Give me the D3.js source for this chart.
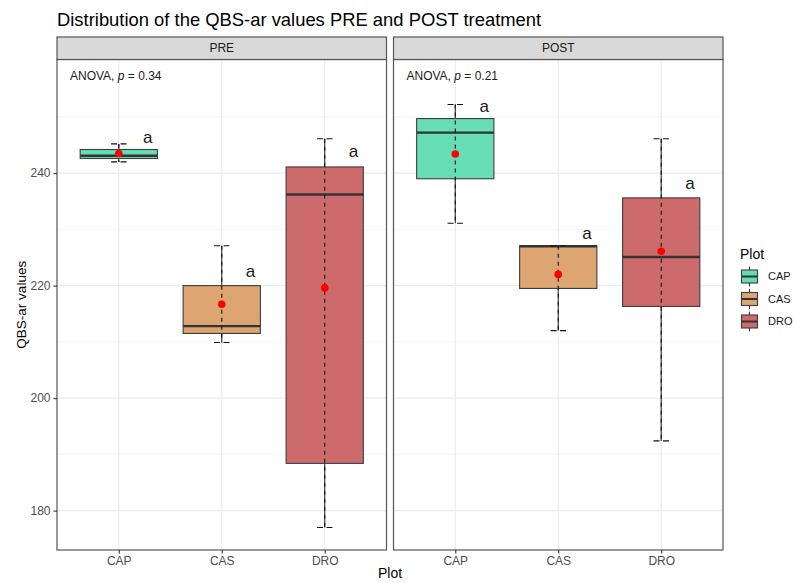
<!DOCTYPE html>
<html>
<head>
<meta charset="utf-8">
<script src="https://cdn.jsdelivr.net/npm/d3@7"></script>
<style>
  body { margin: 0; background: #fff; }
  text { font-family: "Liberation Sans", Arial, sans-serif; }
</style>
</head>
<body>
<div id="chart"></div>
<script>
// data
const panels = ["PRE", "POST"];
const categories = ["CAP", "CAS", "DRO"];
const anovaP = ["0.34", "0.21"];
const yTicks = [180, 200, 220, 240];
const yMinor = [190, 210, 230, 250];

const preMin = [242.0, 209.9, 177.0];
const preQ1 = [242.6, 211.5, 188.4];
const preMedian = [243.1, 212.8, 236.2];
const preQ3 = [244.2, 220.0, 241.1];
const preMax = [245.2, 227.1, 246.1];
const preMean = [243.5, 216.7, 219.6];
const preLetter = ["a", "a", "a"];
const preLetterY = [246.5, 222.6, 243.9];

const postMin = [231.1, 212.0, 192.4];
const postQ1 = [239.0, 219.5, 216.3];
const postMedian = [247.2, 227.0, 225.1];
const postQ3 = [249.7, 227.1, 235.6];
const postMax = [252.2, 227.1, 246.1];
const postMean = [243.4, 222.0, 226.1];
const postLetter = ["a", "a", "a"];
const postLetterY = [251.9, 229.3, 238.2];

const fills = ["#66ddb5", "#dda571", "#cd6a6b"];

const width = 793, height = 583;
const margin = { top: 59.5, right: 70, bottom: 33, left: 57 };
const stripH = 22.5;
const panelGap = 7;
const panelW = (width - margin.left - margin.right - panelGap) / 2;
const plotBottom = height - margin.bottom;

const svg = d3.select("#chart").append("svg")
  .attr("width", width)
  .attr("height", height);

const yScale = d3.scaleLinear()
  .domain([173.0, 260.2])
  .range([plotBottom, margin.top]);

const color = d3.scaleOrdinal().domain(categories).range(fills);

const boxData = [
  categories.map((c, i) => ({ cat: c, min: preMin[i], q1: preQ1[i], med: preMedian[i], q3: preQ3[i], max: preMax[i], mean: preMean[i], letter: preLetter[i], ly: preLetterY[i] })),
  categories.map((c, i) => ({ cat: c, min: postMin[i], q1: postQ1[i], med: postMedian[i], q3: postQ3[i], max: postMax[i], mean: postMean[i], letter: postLetter[i], ly: postLetterY[i] }))
];

panels.forEach((panel, p) => {
  const x0 = margin.left + p * (panelW + panelGap);
  // continuous position scale so that 0.6 expansion matches ggplot discrete
  const xPos = d3.scaleLinear().domain([0.4, 3.6]).range([x0, x0 + panelW]);
  const xOf = c => xPos(categories.indexOf(c) + 1);
  const unit = xPos(1) - xPos(0);

  const g = svg.append("g");

  // minor grid
  g.selectAll(".minor").data(yMinor).enter().append("line")
    .attr("x1", x0).attr("x2", x0 + panelW)
    .attr("y1", d => yScale(d)).attr("y2", d => yScale(d))
    .attr("stroke", "#f2f2f2").attr("stroke-width", 0.8);
  // major grid
  g.selectAll(".major").data(yTicks).enter().append("line")
    .attr("x1", x0).attr("x2", x0 + panelW)
    .attr("y1", d => yScale(d)).attr("y2", d => yScale(d))
    .attr("stroke", "#ebebeb").attr("stroke-width", 1.2);
  g.selectAll(".vgrid").data(categories).enter().append("line")
    .attr("x1", d => xOf(d)).attr("x2", d => xOf(d))
    .attr("y1", margin.top).attr("y2", plotBottom)
    .attr("stroke", "#ebebeb").attr("stroke-width", 1.2);

  const boxes = g.selectAll(".box").data(boxData[p]).enter().append("g");

  // whiskers (solid)
  boxes.append("line")
    .attr("x1", d => xOf(d.cat)).attr("x2", d => xOf(d.cat))
    .attr("y1", d => yScale(d.q3)).attr("y2", d => yScale(d.max))
    .attr("stroke", "#333").attr("stroke-width", 1.1);
  boxes.append("line")
    .attr("x1", d => xOf(d.cat)).attr("x2", d => xOf(d.cat))
    .attr("y1", d => yScale(d.q1)).attr("y2", d => yScale(d.min))
    .attr("stroke", "#333").attr("stroke-width", 1.1);

  // box
  boxes.append("rect")
    .attr("x", d => xOf(d.cat) - unit * 0.375)
    .attr("width", unit * 0.75)
    .attr("y", d => yScale(d.q3))
    .attr("height", d => yScale(d.q1) - yScale(d.q3))
    .attr("fill", d => color(d.cat))
    .attr("stroke", "#3d3d3d").attr("stroke-width", 1.1);
  // median
  boxes.append("line")
    .attr("x1", d => xOf(d.cat) - unit * 0.375).attr("x2", d => xOf(d.cat) + unit * 0.375)
    .attr("y1", d => yScale(d.med)).attr("y2", d => yScale(d.med))
    .attr("stroke", "#333").attr("stroke-width", 2.4);

  // dashed error bar over everything
  boxes.append("line")
    .attr("x1", d => xOf(d.cat)).attr("x2", d => xOf(d.cat))
    .attr("y1", d => yScale(d.max)).attr("y2", d => yScale(d.min))
    .attr("stroke", "#111").attr("stroke-width", 1.1)
    .attr("stroke-dasharray", "4,4");
  ["max", "min"].forEach(k => {
    boxes.append("line")
      .attr("x1", d => xOf(d.cat) - unit * 0.075).attr("x2", d => xOf(d.cat) + unit * 0.075)
      .attr("y1", d => yScale(d[k])).attr("y2", d => yScale(d[k]))
      .attr("stroke", "#111").attr("stroke-width", 1.1)
      .attr("stroke-dasharray", "6,3.5");
  });

  // mean point
  boxes.append("circle")
    .attr("cx", d => xOf(d.cat)).attr("cy", d => yScale(d.mean))
    .attr("r", 3.8).attr("fill", "#ff0000");

  // letters
  boxes.append("text")
    .attr("x", d => xOf(d.cat) + unit * 0.28)
    .attr("y", d => yScale(d.ly))
    .attr("dy", "0.35em")
    .attr("text-anchor", "middle")
    .style("font-size", "17px")
    .attr("fill", "#1a1a1a")
    .text(d => d.letter);

  // ANOVA label
  const an = g.append("text")
    .attr("x", x0 + 13).attr("y", 80)
    .style("font-size", "12px").attr("fill", "#1a1a1a");
  an.append("tspan").text("ANOVA, ");
  an.append("tspan").style("font-style", "italic").text("p");
  an.append("tspan").text(" = " + anovaP[p]);

  // panel border
  g.append("rect")
    .attr("x", x0).attr("y", margin.top)
    .attr("width", panelW).attr("height", plotBottom - margin.top)
    .attr("fill", "none").attr("stroke", "#555").attr("stroke-width", 1.2);

  // strip
  g.append("rect")
    .attr("x", x0).attr("y", margin.top - stripH)
    .attr("width", panelW).attr("height", stripH)
    .attr("fill", "#d9d9d9").attr("stroke", "#555").attr("stroke-width", 1.2);
  g.append("text")
    .attr("x", x0 + panelW / 2).attr("y", margin.top - stripH / 2)
    .attr("dy", "0.35em").attr("text-anchor", "middle")
    .style("font-size", "12px").attr("fill", "#1a1a1a")
    .text(panel);

  // x axis
  const xAxis = d3.axisBottom(d3.scalePoint().domain(categories).range([xPos(1), xPos(3)]))
    .tickSize(3.5).tickPadding(3);
  const ax = g.append("g")
    .attr("transform", `translate(0,${plotBottom})`)
    .call(xAxis);
  ax.select(".domain").remove();
  ax.selectAll("line").attr("stroke", "#333").attr("stroke-width", 1.1);
  ax.selectAll("text").style("font-size", "12px").attr("fill", "#4d4d4d")
    .style("font-family", "'Liberation Sans', Arial, sans-serif");
});

// y axis
const yAxis = svg.append("g")
  .attr("transform", `translate(${margin.left},0)`)
  .call(d3.axisLeft(yScale).tickValues(yTicks).tickSize(3.5).tickPadding(3));
yAxis.select(".domain").remove();
yAxis.selectAll("line").attr("stroke", "#333").attr("stroke-width", 1.1);
yAxis.selectAll("text").style("font-size", "12px").attr("fill", "#4d4d4d")
  .style("font-family", "'Liberation Sans', Arial, sans-serif");

// title
svg.append("text")
  .attr("x", margin.left).attr("y", 26)
  .style("font-size", "18.4px").attr("fill", "#000")
  .text("Distribution of the QBS-ar values PRE and POST treatment");

// axis titles
svg.append("text")
  .attr("x", (margin.left + width - margin.right) / 2).attr("y", 578)
  .attr("text-anchor", "middle")
  .style("font-size", "14px").attr("fill", "#000")
  .text("Plot");
svg.append("text")
  .attr("transform", `translate(26,${(margin.top + plotBottom) / 2}) rotate(-90)`)
  .attr("text-anchor", "middle")
  .style("font-size", "13.5px").attr("fill", "#000")
  .text("QBS-ar values");

// legend
const legX = 740, legY = 254;
svg.append("text")
  .attr("x", legX).attr("y", legY).attr("dy", "0.35em")
  .style("font-size", "14px").attr("fill", "#000")
  .text("Plot");
const keys = svg.selectAll(".key").data(categories).enter().append("g")
  .attr("transform", (d, i) => `translate(${legX},${276.5 + i * 22.5})`);
keys.append("line")
  .attr("x1", 9.5).attr("x2", 9.5).attr("y1", -10).attr("y2", 10)
  .attr("stroke", "#333").attr("stroke-width", 1.1);
keys.append("rect")
  .attr("x", 1.5).attr("y", -6.5).attr("width", 16).attr("height", 13)
  .attr("fill", d => color(d)).attr("stroke", "#3d3d3d").attr("stroke-width", 1.1);
keys.append("line")
  .attr("x1", 1.5).attr("x2", 17.5).attr("y1", 0).attr("y2", 0)
  .attr("stroke", "#333").attr("stroke-width", 2);
keys.append("text")
  .attr("x", 28).attr("dy", "0.35em")
  .style("font-size", "11px").attr("fill", "#1a1a1a")
  .text(d => d);
</script>
</body>
</html>
